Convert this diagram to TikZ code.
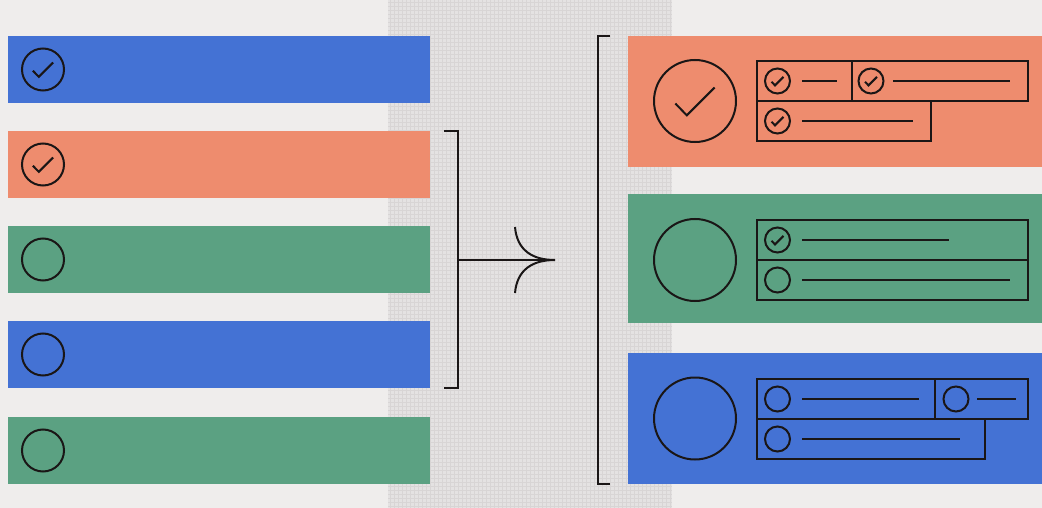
\documentclass[tikz,border=0pt]{standalone}
\usetikzlibrary{positioning}
\definecolor{bg}{HTML}{EFEDEC}
\definecolor{mid}{HTML}{E4E2E2}
\definecolor{midline}{HTML}{D8D5D5}
\definecolor{cblue}{HTML}{4472D4}
\definecolor{corange}{HTML}{EE8C6E}
\definecolor{cgreen}{HTML}{5BA182}
\definecolor{ink}{HTML}{1A1616}
\tikzset{
  ln/.style={draw=ink, line width=2pt},
  bar/.style={rectangle, inner sep=0pt, minimum width=422pt, minimum height=67pt, anchor=north west},
  panel/.style={rectangle, inner sep=0pt, minimum width=414pt, minimum height=130pt, anchor=north west},
  ring/.style={circle, ln, inner sep=0pt, minimum size=#1},
  box/.style={ln, fill=none},
  chk/.style={ln, line join=miter},
  mesh/.style={draw=midline, line width=0.8pt}
}
\newcommand{\tick}[2]{\draw[chk, shift={(#1.center)}, scale=#2] (-0.48,0.06) -- (-0.2,0.35) -- (0.48,-0.33);}
\begin{document}
\begin{tikzpicture}[x=1pt,y=-1pt]
\useasboundingbox (0,0) rectangle (1042,508);
\fill[bg] (0,0) rectangle (1042,508);
\fill[mid] (388,0) rectangle (672,508);
\foreach \xx in {390,394,...,670} {\draw[mesh] (\xx,0) -- (\xx,508);}
\foreach \yy in {2,6,...,506} {\draw[mesh] (388,\yy) -- (672,\yy);}

% left bars
\node[bar, fill=cblue]   (b1) at (8,36) {};
\node[bar, fill=corange] (b2) at (8,131) {};
\node[bar, fill=cgreen]  (b3) at (8,226) {};
\node[bar, fill=cblue]   (b4) at (8,321) {};
\node[bar, fill=cgreen]  (b5) at (8,417) {};
\node[ring=42pt] (c1) at (43,69.5) {};
\node[ring=42pt] (c2) at (43,164.5) {};
\node[ring=42pt] (c3) at (43,259.5) {};
\node[ring=42pt] (c4) at (43,354.5) {};
\node[ring=42pt] (c5) at (43,450.5) {};
\tick{c1}{21}
\tick{c2}{21}

% left bracket and arrow
\coordinate (lt0) at (444,131);
\coordinate (lt1) at (458,131);
\coordinate (lb1) at (458,388);
\coordinate (lb0) at (444,388);
\coordinate (lm) at (458,260);
\coordinate (tip) at (555,260);
\coordinate (ah1) at (515,227);
\coordinate (ah2) at (515,293);
\draw[ln] (lt0) -- (lt1) -- (lb1) -- (lb0);
\draw[ln] (lm) -- (tip);
\draw[ln] (ah1) .. controls (517,250) and (532,260) .. (tip);
\draw[ln] (ah2) .. controls (517,270) and (532,260) .. (tip);

% right bracket
\coordinate (rt0) at (610,36);
\coordinate (rt1) at (598,36);
\coordinate (rb1) at (598,484);
\coordinate (rb0) at (610,484);
\draw[ln] (rt0) -- (rt1) -- (rb1) -- (rb0);

% right panels
\node[panel, fill=corange, minimum height=131pt] (p1) at (628,36) {};
\node[panel, fill=cgreen, minimum height=129pt]  (p2) at (628,194) {};
\node[panel, fill=cblue, minimum height=131pt]   (p3) at (628,353) {};

% panel 1
\node[ring=82pt] (P1) at (695,101) {};
\tick{P1}{41}
\draw[box] (757,61) rectangle (852,101);
\draw[box] (852,61) rectangle (1028,101);
\draw[box] (757,101) rectangle (931,141);
\node[ring=25pt] (s11) at (777.5,81) {};
\node[ring=25pt] (s12) at (871,81) {};
\node[ring=25pt] (s13) at (777.5,121) {};
\tick{s11}{12.5}
\tick{s12}{12.5}
\tick{s13}{12.5}
\draw[ln] (802,81) -- (837,81);
\draw[ln] (893,81) -- (1010,81);
\draw[ln] (802,121) -- (913,121);

% panel 2
\node[ring=82pt] (P2) at (695,260) {};
\draw[box] (757,220) rectangle (1028,260);
\draw[box] (757,260) rectangle (1028,300);
\node[ring=25pt] (s21) at (777.5,240) {};
\node[ring=25pt] (s22) at (777.5,280) {};
\tick{s21}{12.5}
\draw[ln] (802,240) -- (949,240);
\draw[ln] (802,280) -- (1010,280);

% panel 3
\node[ring=82pt] (P3) at (695,418.5) {};
\draw[box] (757,379) rectangle (935,419);
\draw[box] (935,379) rectangle (1028,419);
\draw[box] (757,419) rectangle (985,459);
\node[ring=25pt] (s31) at (777.5,399) {};
\node[ring=25pt] (s32) at (956,399) {};
\node[ring=25pt] (s33) at (777.5,439) {};
\draw[ln] (802,399) -- (919,399);
\draw[ln] (977,399) -- (1016,399);
\draw[ln] (802,439) -- (960,439);
\end{tikzpicture}
\end{document}
